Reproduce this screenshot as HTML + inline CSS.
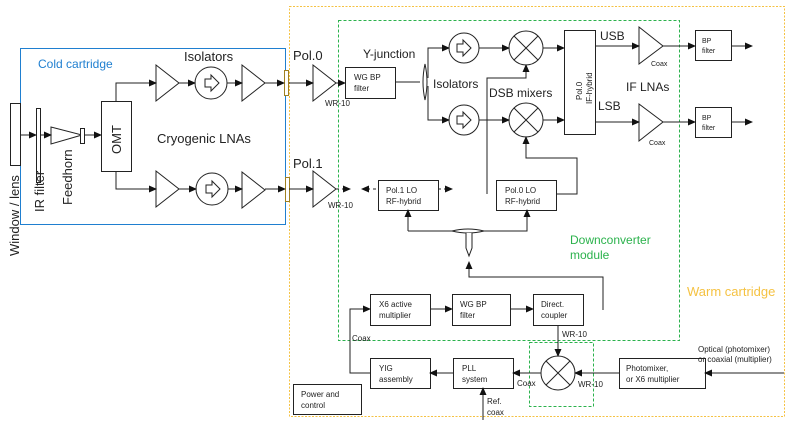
<!DOCTYPE html>
<html><head><meta charset="utf-8"><style>body{margin:0;background:#fff}svg{display:block}text{font-family:"Liberation Sans",Arial,sans-serif;fill:#222}</style></head><body>
<svg width="789" height="426" viewBox="0 0 789 426" xmlns="http://www.w3.org/2000/svg">
<defs><marker id="a" markerWidth="8" markerHeight="8" refX="7" refY="4" orient="auto" markerUnits="userSpaceOnUse"><path d="M0,0.5 L8,4 L0,7.5 z" fill="#111"/></marker></defs>
<g fill="none" stroke-width="1">
<rect x="289.5" y="6.5" width="495" height="410" stroke="#f5c242" stroke-dasharray="2,1.5"/>
<rect x="338.5" y="20.5" width="341" height="320" stroke="#2bb24c" stroke-dasharray="3,2"/>
<rect x="529.5" y="342.5" width="64" height="64" stroke="#2bb24c" stroke-dasharray="3,2"/>
<rect x="20.5" y="48.5" width="265" height="176" stroke="#1f7fd0"/>
</g>
<g fill="#fff" stroke="#222" stroke-width="1">
<rect x="10.5" y="103.5" width="10" height="62"/>
<rect x="36.5" y="108.5" width="4" height="74"/>
<path d="M51,127 L51,144 L82,135 z"/>
<rect x="80.5" y="128.5" width="4" height="15"/>
<rect x="101.5" y="101.5" width="30" height="70"/>
<path d="M156,65 L156,101 L179,83 z"/><circle cx="211" cy="83" r="16"/><path d="M242,65 L242,101 L265,83 z"/>
<path d="M156,171 L156,207 L179,189 z"/><circle cx="212" cy="189" r="16"/><path d="M242,172 L242,208 L265,190 z"/>
<rect x="284.5" y="70.5" width="4" height="25" fill="#fff" stroke="#a08020"/>
<rect x="285.5" y="177.5" width="4" height="24" fill="#fff" stroke="#a08020"/>
<path d="M313,65 L313,101 L336,83 z"/><path d="M313,171 L313,207 L336,189 z"/>
<rect x="345.5" y="67.5" width="50" height="31"/>
<path d="M425,64 Q429,82 425,100 Q421,82 425,64 z"/>
<circle cx="464" cy="48" r="15"/><circle cx="464" cy="120" r="15"/>
<circle cx="526" cy="48" r="17"/><circle cx="526" cy="120" r="17"/>
<rect x="564.5" y="30.5" width="31" height="104"/>
<path d="M639,27 L639,64 L663,46 z"/><path d="M639,104 L639,141 L663,122 z"/>
<rect x="695.5" y="30.5" width="36" height="30"/><rect x="695.5" y="107.5" width="36" height="30"/>
<rect x="378.5" y="180.5" width="60" height="30"/><rect x="496.5" y="180.5" width="60" height="30"/>
<rect x="370.5" y="294.5" width="60" height="31"/><rect x="452.5" y="294.5" width="58" height="31"/><rect x="533.5" y="294.5" width="50" height="31"/>
<rect x="370.5" y="358.5" width="60" height="30"/><rect x="453.5" y="358.5" width="60" height="30"/><rect x="619.5" y="358.5" width="86" height="30"/>
<circle cx="558" cy="373" r="17"/>
<rect x="293.5" y="384.5" width="68" height="30"/>
<path d="M452,231 Q468,227 484,231 Q468,235 452,231 z"/>
<path d="M466,233 L466,248 L469,256 L472,248 L472,233"/>
</g>
<g stroke="#222" stroke-width="1" fill="none">
<path d="M526,48 m-12,-12 l24,24 m0,-24 l-24,24"/><path d="M526,120 m-12,-12 l24,24 m0,-24 l-24,24"/>
<path d="M558,373 m-12,-12 l24,24 m0,-24 l-24,24"/>
<path d="M205,79 h6 v-4 l8,8 l-8,8 v-4 h-6 z"/><path d="M206,185 h6 v-4 l8,8 l-8,8 v-4 h-6 z"/>
<path d="M457,44 h6 v-4 l8,8 l-8,8 v-4 h-6 z"/><path d="M457,116 h6 v-4 l8,8 l-8,8 v-4 h-6 z"/>
</g>
<g stroke="#222" stroke-width="1" fill="none" marker-end="url(#a)">
<path d="M20,135 H36"/><path d="M40,135 H51"/><path d="M84,135 H101"/>
<path d="M116,101 V83 H156"/><path d="M179,83 H195"/><path d="M227,83 H242"/><path d="M265,83 H284"/>
<path d="M116,171 V189 H156"/><path d="M179,189 H196"/><path d="M228,189 H242"/><path d="M265,189 H285"/>
<path d="M289,83 H313"/><path d="M289,189 H313"/><path d="M336,83 H345"/>
<path d="M395,82 H420 M428,78 V48 H449"/><path d="M428,86 V120 H449"/>
<path d="M479,48 H509"/><path d="M479,120 H509"/><path d="M543,48 H564"/><path d="M543,120 H564"/>
<path d="M595,46 H639"/><path d="M595,122 H639"/><path d="M663,46 H695"/><path d="M663,122 H695"/>
<path d="M731,46 H752"/><path d="M731,122 H752"/>
<path d="M487,194 V78 H526 V65"/><path d="M556,194 H577 V158 H526 V137"/>
<path d="M408,231 V210"/><path d="M408,231 H452 M484,231 H527 V210"/>
<path d="M603,310 V277 H469 V262"/>
<path d="M430,309 H452"/><path d="M510,309 H533"/>
<path d="M558,325 V356"/><path d="M784,373 H705"/><path d="M619,373 H575"/><path d="M541,373 H513"/><path d="M453,373 H430"/>
<path d="M370,373 H350 V309 H370"/><path d="M483,420 V388"/>
</g>
<g stroke="#222" stroke-width="1" fill="none" stroke-dasharray="3,3" marker-end="url(#a)">
<path d="M336,189 H350"/><path d="M376,189 H362"/><path d="M438,189 H452"/>
</g>
<text x="38" y="68" font-size="12" style="fill:#1f7fd0">Cold cartridge</text>
<text x="184" y="61" font-size="13">Isolators</text>
<text x="157" y="143" font-size="13">Cryogenic LNAs</text>
<text transform="translate(19,256) rotate(-90)" font-size="13">Window / lens</text>
<text transform="translate(44,212) rotate(-90)" font-size="13">IR filter</text>
<text transform="translate(72,205) rotate(-90)" font-size="13">Feedhorn</text>
<text transform="translate(121,154) rotate(-90)" font-size="13">OMT</text>
<text x="293" y="60" font-size="13">Pol.0</text><text x="293" y="168" font-size="13">Pol.1</text>
<text x="325" y="106" font-size="8">WR-10</text><text x="328" y="208" font-size="8">WR-10</text>
<text x="354" y="80" font-size="8">WG BP</text><text x="354" y="91" font-size="8">filter</text>
<text x="363" y="58" font-size="12">Y-junction</text>
<text x="433" y="88" font-size="12">Isolators</text><text x="489" y="97" font-size="12">DSB mixers</text>
<text transform="translate(582,100) rotate(-90)" font-size="8">Pol.0</text><text transform="translate(592,104) rotate(-90)" font-size="8">IF-hybrid</text>
<text x="600" y="40" font-size="12">USB</text><text x="598" y="110" font-size="12">LSB</text><text x="626" y="91" font-size="12">IF LNAs</text>
<text x="651" y="66" font-size="7">Coax</text><text x="649" y="145" font-size="7">Coax</text>
<text x="702" y="43" font-size="7">BP</text><text x="702" y="53" font-size="7">filter</text>
<text x="702" y="120" font-size="7">BP</text><text x="702" y="130" font-size="7">filter</text>
<text x="386" y="193" font-size="8">Pol.1 LO</text><text x="386" y="204" font-size="8">RF-hybrid</text>
<text x="505" y="193" font-size="8">Pol.0 LO</text><text x="505" y="204" font-size="8">RF-hybrid</text>
<text x="570" y="244" font-size="12" style="fill:#2bb24c">Downconverter</text><text x="570" y="259" font-size="12" style="fill:#2bb24c">module</text>
<text x="687" y="296" font-size="13" style="fill:#f5c242">Warm cartridge</text>
<text x="379" y="307" font-size="8">X6 active</text><text x="379" y="318" font-size="8">multiplier</text>
<text x="460" y="307" font-size="8">WG BP</text><text x="460" y="318" font-size="8">filter</text>
<text x="541" y="307" font-size="8">Direct.</text><text x="541" y="318" font-size="8">coupler</text>
<text x="562" y="337" font-size="8">WR-10</text><text x="352" y="341" font-size="8">Coax</text>
<text x="698" y="352" font-size="8">Optical (photomixer)</text><text x="698" y="362" font-size="8">or coaxial (multiplier)</text>
<text x="379" y="371" font-size="8">YIG</text><text x="379" y="382" font-size="8">assembly</text>
<text x="462" y="371" font-size="8">PLL</text><text x="462" y="382" font-size="8">system</text>
<text x="626" y="371" font-size="8">Photomixer,</text><text x="626" y="382" font-size="8">or X6 multiplier</text>
<text x="517" y="386" font-size="8">Coax</text><text x="578" y="387" font-size="8">WR-10</text>
<text x="301" y="397" font-size="8">Power and</text><text x="301" y="408" font-size="8">control</text>
<text x="487" y="404" font-size="8">Ref.</text><text x="487" y="415" font-size="8">coax</text>
</svg>
</body></html>
